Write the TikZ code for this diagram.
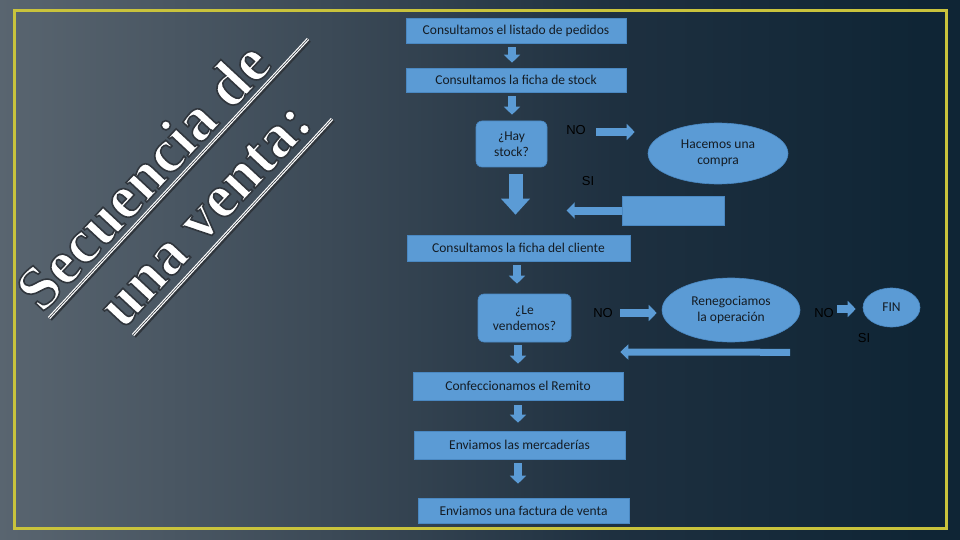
\documentclass[tikz,border=0pt]{standalone}
\usepackage{fontspec}
\setmainfont{Carlito}
\newfontfamily\ttlfont{Liberation Serif}
\newfontfamily\labelfont{Liberation Sans}
\usetikzlibrary{arrows.meta,shapes.geometric,calc}

\definecolor{bxblue}{HTML}{5B9BD5}
\definecolor{bxedge}{HTML}{4A88C2}
\definecolor{bxtext}{HTML}{141C24}
\definecolor{frameyel}{HTML}{C9C33C}
\definecolor{bgA}{HTML}{525D68}
\definecolor{bgB}{HTML}{65707A}
\definecolor{bgC}{HTML}{3C4A57}
\definecolor{bgD}{HTML}{1E3040}
\definecolor{bgE}{HTML}{0F2535}
\definecolor{bgF}{HTML}{0A2131}
\definecolor{titleedge}{HTML}{30363D}
\pgfdeclarehorizontalshading{bgshade}{100bp}{color(0bp)=(bgA); color(18bp)=(bgB); color(42bp)=(bgC); color(57bp)=(bgD); color(73bp)=(bgE); color(100bp)=(bgF)}

\newcommand{\outlined}[1]{\special{pdf:literal direct 0.19 0.21 0.24 RG 1.6 w 2 Tr}#1\special{pdf:literal direct 0 Tr}}

\begin{document}
\begin{tikzpicture}[x=1pt,y=-1pt,
  box/.style={draw=bxedge, line width=0.6pt, fill=bxblue, text=bxtext,
    font=\fontsize{13.5}{16}\selectfont, inner sep=0pt, align=center},
  rbox/.style={box, rounded corners=6pt},
  ell/.style={box, ellipse},
  lbl/.style={font=\labelfont\fontsize{13}{15}\selectfont, text=black, inner sep=0pt},
  barrow/.style={bxblue, line width=8pt, -{Triangle[width=16pt,length=8pt]}},
  bigarrow/.style={bxblue, line width=14pt, -{Triangle[width=28pt,length=16pt]}},
  titletxt/.style={font=\ttlfont\bfseries\fontsize{62}{62}\selectfont, text=white, rotate=47, anchor=base, inner sep=0pt},
]
\useasboundingbox (0,0) rectangle (960,540);
\shade[shading=bgshade] (0,0) rectangle (960,540);
\draw[frameyel, line width=3pt] (14,11) rectangle (946,528);

% title underlines
\coordinate (u1a) at (49,318);
\coordinate (u1b) at (308,39);
\coordinate (u2a) at (133,335);
\coordinate (u2b) at (332,119);
\foreach \a/\b in {u1a/u1b,u2a/u2b}{
  \draw[titleedge, line width=5pt] ($(\a)+(1,1)$) -- ($(\b)+(1,1)$);
  \draw[white, line width=3pt] (\a) -- (\b);
  \draw[titleedge, line width=0.6pt] (\a) -- (\b);
}
% title text
\node[titletxt] (t1) at (158,190) {\outlined{Secuencia de}};
\node[titletxt] (t2) at (219,227) {\outlined{una venta:}};

% nodes
\node[box, minimum width=220pt, minimum height=25pt] (b1) at (516,30.5) {Consultamos el listado de pedidos};
\node[box, minimum width=220pt, minimum height=24pt] (b2) at (516,80) {Consultamos la ficha de stock};
\node[rbox, minimum width=71pt, minimum height=46pt] (hay) at (511.5,144) {¿Hay\\stock?};
\node[ell, minimum width=140pt, minimum height=61pt] (compra) at (718,153.5) {Hacemos una\\compra};
\node[box, minimum width=102pt, minimum height=29pt] (cb) at (673,210.5) {};
\node[box, minimum width=223pt, minimum height=26pt] (b3) at (518.5,248) {Consultamos la ficha del cliente};
\node[rbox, minimum width=93pt, minimum height=48pt] (vend) at (524.5,318) {¿Le\\vendemos?};
\node[ell, minimum width=138pt, minimum height=64pt] (reneg) at (731,310) {Renegociamos\\la operación};
\node[ell, minimum width=57pt, minimum height=39pt] (fin) at (891.5,307.5) {FIN};
\node[box, minimum width=210pt, minimum height=28pt] (b4) at (518,386) {Confeccionamos el Remito};
\node[box, minimum width=211pt, minimum height=28pt] (b5) at (519.5,445) {Enviamos las mercaderías};
\node[box, minimum width=211pt, minimum height=25pt] (b6) at (523.5,510.5) {Enviamos una factura de venta};

% labels
\node[lbl] (no1) at (576,130) {NO};
\node[lbl] (si1) at (588,181) {SI};
\node[lbl] (no2) at (603,313) {NO};
\node[lbl] (no3) at (824,313) {NO};
\node[lbl] (si2) at (864,338) {SI};

% vertical arrows
\draw[barrow] ($(b1.south)+(-4,4)$) -- ($(b2.north)+(-4,-5)$);
\draw[barrow] ($(b2.south)+(-4,4)$) -- ($(hay.north)+(0.5,-6)$);
\draw[bigarrow] ($(hay.south)+(4,7)$) -- ($(b3.north)+(-3,-20)$);
\draw[barrow] ($(b3.south)+(-1.5,4)$) -- ($(vend.north)+(-7.5,-10)$);
\draw[barrow] ($(vend.south)+(-6.5,3)$) -- ($(b4.north)+(0,-8)$);
\draw[barrow] ($(b4.south)+(0,5)$) -- ($(b5.north)+(-1.5,-8)$);
\draw[barrow] ($(b5.south)+(-1.5,4)$) -- ($(b6.north)+(-5.5,-14)$);

% horizontal arrows
\draw[barrow] ($(no1.east)+(10,2)$) -- ($(compra.west |- no1.east)+(-13,2)$);
\coordinate (cbtip) at ($(cb.west)+(-55,0)$);
\draw[barrow] (cb.west) -- (cbtip);
\draw[barrow] ($(no2.east)+(7,0)$) -- ($(reneg.west |- no2.east)+(-5,0)$);
\draw[barrow] ($(no3.east)+(3,-4)$) -- ($(fin.west |- no3.east)+(-7,-4)$);
\draw[bxblue, line width=7pt, -{Triangle[width=15pt,length=8pt]}] ($(reneg.south)+(59,10)$) -- ($(vend.east)+(49,34)$);
\end{tikzpicture}
\end{document}
